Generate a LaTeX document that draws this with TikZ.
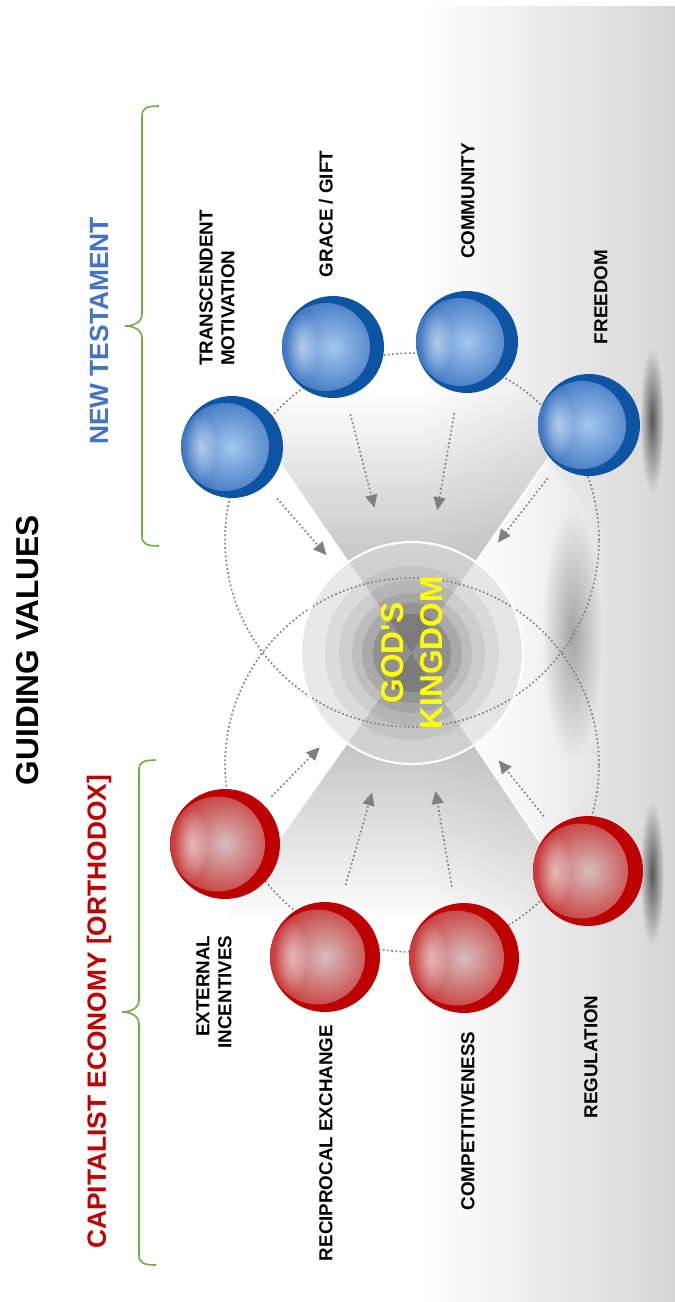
\documentclass[tikz,border=0pt]{standalone}
\usepackage{fontspec}
\setmainfont{Liberation Sans}
\usetikzlibrary{arrows.meta,fadings}

\definecolor{ntblue}{HTML}{4472C4}
\definecolor{cered}{HTML}{C00000}
\definecolor{bracegreen}{HTML}{70AD47}
\definecolor{rimblue}{HTML}{0D55A3}
\definecolor{glowblue}{HTML}{A3C6EE}
\definecolor{midblue}{HTML}{4077C2}
\definecolor{rimred}{HTML}{BD0000}
\definecolor{glowred}{HTML}{D6BEBE}
\definecolor{midred}{HTML}{C93A3A}
\definecolor{dotgray}{HTML}{808080}
\definecolor{godyellow}{HTML}{FFFF00}

\tikzfading[name=softspot, inner color=transparent!0, outer color=transparent!100]
\tikzfading[name=fadeup, top color=transparent!100, bottom color=transparent!0]
\tikzfading[name=fadedown, top color=transparent!0, bottom color=transparent!100]
\tikzfading[name=faderight, left color=transparent!0, right color=transparent!100]

\begin{document}
\begin{tikzpicture}[x=0.02cm, y=0.02cm,
	bluesphere/.style={circle, inner sep=0pt, minimum size=2.04cm, fill=rimblue,
		path picture={
			\shade[inner color=glowblue, outer color=midblue]
			([xshift=-0.14cm]path picture bounding box.center) circle (0.88cm);
			\fill[white, opacity=0.5, path fading=softspot]
			([xshift=-0.62cm]path picture bounding box.center) ellipse (0.32cm and 0.68cm);
		}},
	redsphere/.style={circle, inner sep=0pt, minimum size=2.2cm, fill=rimred,
		path picture={
			\shade[inner color=glowred, outer color=midred]
			([xshift=-0.15cm]path picture bounding box.center) circle (0.95cm);
			\fill[white, opacity=0.5, path fading=softspot]
			([xshift=-0.67cm]path picture bounding box.center) ellipse (0.34cm and 0.74cm);
		}},
	kingdom/.style={circle, draw=white, line width=1.2pt, minimum size=4.44cm, inner sep=0pt,
		rotate=90, align=center, text=godyellow, font=\bfseries\fontsize{18}{22}\selectfont},
	orbit/.style={draw=dotgray, line width=0.9pt, dash pattern=on 1pt off 1.4pt},
	flow/.style={draw=dotgray, line width=0.9pt, dash pattern=on 1pt off 1.4pt,
		-{Triangle[length=0.26cm, width=0.24cm]}},
	grpbrace/.style={draw=bracegreen, line width=0.9pt},
	title/.style={rotate=90, font=\bfseries\fontsize{18}{21}\selectfont},
	head/.style={rotate=90, font=\bfseries\fontsize{15}{18}\selectfont},
	lbl/.style={rotate=90, font=\bfseries\fontsize{10.7}{12.4}\selectfont}]
	\useasboundingbox (0,0) rectangle (675,-1302);
	\fill[white] (0,0) rectangle (675,-1302);
	\shade[left color=white, right color=black!16] (420,-6) rectangle (675,-1302);

	\fill[white, path fading=faderight] (412,-653) -- (548,-462) -- (615,-540) -- (615,-770) -- (540,-842) -- cycle;

	\fill[black, opacity=0.6, path fading=softspot] (652,-420) ellipse (0.24cm and 1.45cm);
	\fill[black, opacity=0.6, path fading=softspot] (652,-874) ellipse (0.24cm and 1.45cm);
	\fill[black, opacity=0.3, path fading=softspot] (572,-635) ellipse (0.6cm and 2.5cm);

	\fill[black!34, path fading=fadeup] (232,-392) -- (592,-392) -- (412,-653) -- cycle;
	\fill[black!34, path fading=fadedown] (412,-653) -- (593,-920) -- (223,-920) -- cycle;
	\draw[white, line width=1pt] (548,-460) -- (412,-653) -- (540,-842);

	\fill[black!15, opacity=0.6] (412,-653) circle (2.22cm);
	\foreach \r/\o in {1.74/0.055, 1.46/0.06, 1.2/0.075, 1.0/0.1, 0.78/0.15}
		\fill[black, opacity=\o] (412,-653) circle (\r cm);

	\draw[orbit] (412,-540) circle (3.74cm);
	\draw[orbit] (412,-765) circle (3.74cm);

	\node[kingdom] (god) at (412,-653) {GOD\textquotesingle S\\KINGDOM};

	\node[bluesphere] (tm) at (232,-447) {};
	\node[bluesphere] (grace) at (333,-347) {};
	\node[bluesphere] (comm) at (467,-342) {};
	\node[bluesphere] (free) at (589,-425) {};
	\node[redsphere] (ext) at (225,-844) {};
	\node[redsphere] (recip) at (325,-957) {};
	\node[redsphere] (comp) at (464,-958) {};
	\node[redsphere] (reg) at (588,-871) {};

	\draw[flow, shorten <=0.34cm, shorten >=0.36cm] (tm) -- (god);
	\draw[flow, shorten <=0.36cm, shorten >=0.76cm] (grace) -- (god);
	\draw[flow, shorten <=0.42cm, shorten >=0.66cm] (comm) -- (god);
	\draw[flow, shorten <=0.32cm, shorten >=0.56cm] (free) -- (god);
	\draw[flow, shorten <=0.22cm, shorten >=0.4cm] (ext) -- (god);
	\draw[flow, shorten <=0.39cm, shorten >=0.66cm] (recip) -- (god);
	\draw[flow, shorten <=0.34cm, shorten >=0.56cm] (comp) -- (god);
	\draw[flow, shorten <=0.3cm, shorten >=0.52cm] (reg) -- (god);

	\node[lbl, align=left] (tmlbl) at (217,-288) {TRANSCENDENT\\MOTIVATION};
	\node[lbl] (gracelbl) at (326,-214) {GRACE / GIFT};
	\node[lbl] (commlbl) at (468,-201) {COMMUNITY};
	\node[lbl] (freelbl) at (601,-297) {FREEDOM};
	\node[lbl, align=right] (extlbl) at (214,-992) {EXTERNAL\\INCENTIVES};
	\node[lbl] (reciplbl) at (326,-1143) {RECIPROCAL EXCHANGE};
	\node[lbl] (complbl) at (468,-1121) {COMPETITIVENESS};
	\node[lbl] (reglbl) at (591,-1057) {REGULATION};

	\node[title] (title) at (28,-650) {GUIDING VALUES};
	\node[head, text=ntblue] (nt) at (99,-331) {NEW TESTAMENT};
	\node[head, text=cered] (ce) at (99,-1012) {CAPITALIST ECONOMY [ORTHODOX]};

	\draw[grpbrace] (159,-106) .. controls (147,-106) and (142,-108) .. (142,-116)
	-- (142,-314) .. controls (142,-322) and (134,-326) .. (125,-326)
	.. controls (134,-326) and (142,-330) .. (142,-338)
	-- (142,-536) .. controls (142,-544) and (147,-546) .. (159,-546);
	\draw[grpbrace] (156,-760) .. controls (144,-760) and (139,-762) .. (139,-770)
	-- (139,-1000) .. controls (139,-1008) and (131,-1012) .. (122,-1012)
	.. controls (131,-1012) and (139,-1016) .. (139,-1024)
	-- (139,-1255) .. controls (139,-1263) and (144,-1265) .. (156,-1265);
\end{tikzpicture}
\end{document}
